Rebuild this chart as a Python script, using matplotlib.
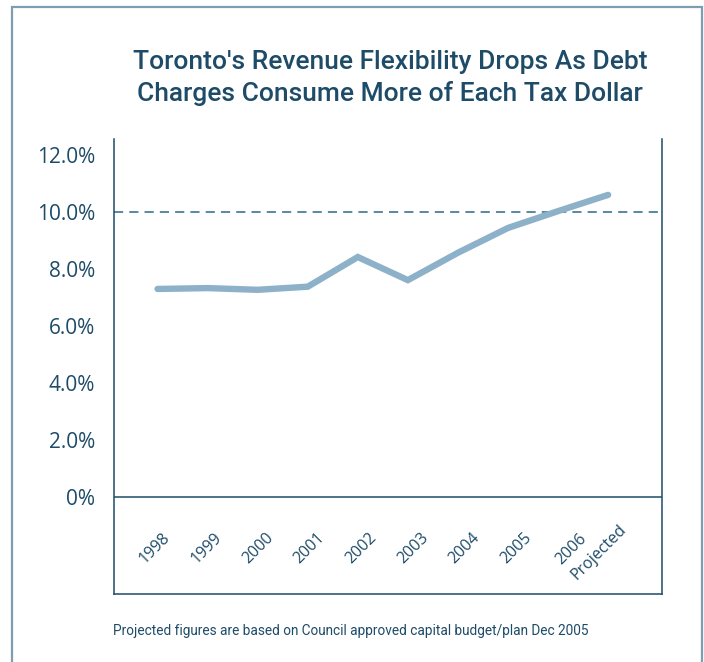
import numpy as np
import matplotlib
matplotlib.use("Agg")
import matplotlib.pyplot as plt
from matplotlib.patches import Rectangle

# ---- data ----
points = np.arange(10)
values = [7.30, 7.33, 7.27, 7.38, 8.42, 7.61, 8.57, 9.44, 10.03, 10.60]
x_labels = ["1998", "1999", "2000", "2001", "2002", "2003", "2004", "2005", "2006\nProjected"]
y_ticks = [0, 2, 4, 6, 8, 10, 12]
y_tick_labels = ["0%", "2.0%", "4.0%", "6.0%", "8.0%", "10.0%", "12.0%"]
threshold = 10.0
title = "Toronto's Revenue Flexibility Drops As Debt\nCharges Consume More of Each Tax Dollar"
footnote = "Projected figures are based on Council approved capital budget/plan Dec 2005"

DARK = "#1d4b68"
LINE = "#8db1c9"
BORDER = "#7f9db0"

W, H = 704, 662
fig = plt.figure(figsize=(W / 100, H / 100), dpi=100)

# outer frame
fig.patches.append(Rectangle((12 / W, -0.05), (702 - 12) / W, 1.05 - 7 / H,
                             transform=fig.transFigure, fill=False,
                             edgecolor=BORDER, linewidth=1.6))

left, right, top, bottom = 114.5, 661.7, 139, 594
ax = fig.add_axes([left / W, 1 - bottom / H, (right - left) / W, (bottom - top) / H])

ax.plot(points, values, color=LINE, linewidth=4.6, solid_capstyle="round",
        solid_joinstyle="miter", zorder=3)
ax.axhline(threshold, color="#2a6a88", linewidth=1.1, linestyle=(0, (6, 4)), zorder=2)
ax.axhline(0, color=DARK, linewidth=1.1, zorder=2)

ax.set_xlim(-0.86, 10.07)
ax.set_ylim(-3.40, 12.56)

ax.set_yticks(y_ticks)
ax.set_yticklabels(y_tick_labels, fontfamily="Open Sans", fontsize=15, color=DARK)
ax.tick_params(axis="y", length=0, pad=14)
ax.set_xticks([])

for s in ["left", "right", "bottom"]:
    ax.spines[s].set_color(DARK)
    ax.spines[s].set_linewidth(1.1)
ax.spines["top"].set_visible(False)

label_pos = list(-0.05 + np.arange(len(x_labels) - 1) * 1.03) + [8.66]
label_y = [-1.79] * (len(x_labels) - 1) + [-1.66]
for pos, ly, lab in zip(label_pos, label_y, x_labels):
    ax.text(pos, ly, lab, rotation=45, rotation_mode="anchor", ha="center",
            va="center", fontfamily="Open Sans", fontsize=11.5, color=DARK,
            linespacing=1.5, multialignment="left")

fig.text(390 / W, 1 - 78 / H, title, ha="center", va="center",
         fontfamily="Roboto", fontsize=19, fontweight="medium",
         color=DARK, linespacing=1.38)

fig.text(113 / W, 1 - 631 / H, footnote, ha="left", va="center",
         fontfamily="Roboto", fontsize=9.85, color=DARK)

fig.savefig("out.png", dpi=100)
